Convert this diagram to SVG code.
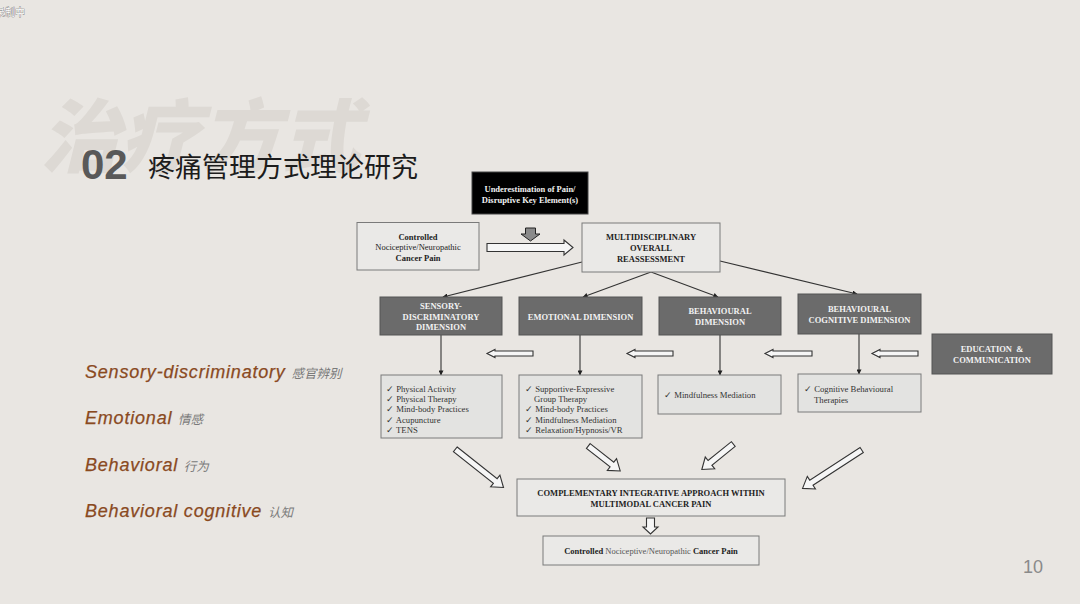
<svg xmlns="http://www.w3.org/2000/svg" width="1080" height="604" viewBox="0 0 1080 604">
<defs>
<style>
.bg{fill:#e9e6e2}
.wbox{fill:#eae9e7;stroke:#7a7a7a;stroke-width:1}
.lbox{fill:#e3e3e1;stroke:#7a7a7a;stroke-width:1}
.dbox{fill:#6b6b6b;stroke:#555;stroke-width:1}
.t{font-family:"Liberation Serif","Times New Roman",serif;font-size:8.5px;fill:#222}
.b{font-weight:bold}
.w{fill:#f2f2f2;font-weight:bold}
.c{text-anchor:middle}
.li{font-family:"Liberation Serif","Times New Roman",serif;font-size:8.7px;fill:#333}
.hollow{fill:#f6f6f6;stroke:#333;stroke-width:1.1}
.conn{stroke:#333;stroke-width:1.1;fill:none;marker-end:url(#ah)}
.lab{font-family:"Liberation Sans",Arial,sans-serif;font-style:italic;font-size:18px;letter-spacing:0.8px;fill:#8a4a1f;stroke:#8a4a1f;stroke-width:0.25}
.cn{font-family:"Noto Sans CJK SC","Noto Sans",sans-serif;font-style:italic;font-size:12.5px;letter-spacing:0;fill:#7a7a7a;stroke:none}
</style>
<marker id="ah" viewBox="0 0 6 6" refX="5.5" refY="3" markerWidth="5" markerHeight="5" markerUnits="userSpaceOnUse" orient="auto">
<path d="M0,0 L6,3 L0,6 z" fill="#222"/>
</marker>
</defs>
<rect class="bg" x="0" y="0" width="1080" height="604"/>
<text x="-5" y="16" font-family="Noto Sans CJK SC,sans-serif" font-size="10" fill="#fff" stroke="#777" stroke-width="0.7" paint-order="stroke">录制中</text>

<g id="title">
<text x="40" y="166" font-family="'Noto Sans CJK SC',sans-serif" font-size="80" font-weight="900" font-style="italic" fill="#ddd9d4">治疗方式</text>
<text x="81" y="179" font-family="'Liberation Sans',Arial,sans-serif" font-size="42" font-weight="bold" fill="#595959">02</text>
<text x="148" y="177" font-family="'Noto Sans CJK SC',sans-serif" font-size="27" fill="#1c1c1c">疼痛管理方式理论研究</text>
</g>

<g id="labels">
<text class="lab" x="85" y="378">Sensory-discriminatory <tspan class="cn">感官辨别</tspan></text>
<text class="lab" x="85" y="424">Emotional <tspan class="cn">情感</tspan></text>
<text class="lab" x="85" y="471">Behavioral <tspan class="cn">行为</tspan></text>
<text class="lab" x="85" y="517">Behavioral cognitive <tspan class="cn">认知</tspan></text>
</g>

<g id="connectors">
<polygon points="525.5,228 535.5,228 535.5,234 540,234 530.5,241 521,234 525.5,234" fill="#8a8a8a" stroke="#222" stroke-width="1"/>
<polygon class="hollow" points="487,243.5 564,243.5 564,240 573,247.5 564,255 564,251.5 487,251.5"/>
<line class="conn" x1="582" y1="262" x2="443" y2="297"/>
<line class="conn" x1="651" y1="272" x2="583" y2="297"/>
<line class="conn" x1="651" y1="272" x2="718" y2="297"/>
<line class="conn" x1="720" y1="261" x2="857" y2="294"/>
<line class="conn" x1="441" y1="335" x2="441" y2="375"/>
<line class="conn" x1="580" y1="335" x2="580" y2="375"/>
<line class="conn" x1="720" y1="335" x2="720" y2="375"/>
<line class="conn" x1="859" y1="334" x2="859" y2="374"/>
<polygon class="hollow" points="487,353.5 495,349.5 495,351 533,351 533,356 495,356 495,357.5"/>
<polygon class="hollow" points="627,353.5 635,349.5 635,351 673,351 673,356 635,356 635,357.5"/>
<polygon class="hollow" points="765,353.5 773,349.5 773,351 812,351 812,356 773,356 773,357.5"/>
<polygon class="hollow" points="872,353.5 880,349.5 880,351 918,351 918,356 880,356 880,357.5"/>
<polygon class="hollow" transform="translate(455.3,449.3) rotate(38.4)" points="0,-3 51,-3 51,-7.5 61.5,0 51,7.5 51,3 0,3"/>
<polygon class="hollow" transform="translate(588.3,446) rotate(38)" points="0,-3 30,-3 30,-7.5 40.5,0 30,7.5 30,3 0,3"/>
<polygon class="hollow" transform="translate(733.3,444) rotate(141)" points="0,-3 30,-3 30,-7.5 40.5,0 30,7.5 30,3 0,3"/>
<polygon class="hollow" transform="translate(861.7,450) rotate(147)" points="0,-3 60,-3 60,-7.5 70.5,0 60,7.5 60,3 0,3"/>
<polygon class="hollow" points="646.5,518 654.5,518 654.5,527 658,527 650.5,534 643,527 646.5,527"/>
</g>

<g id="n-under">
<rect x="472" y="172" width="116" height="42" fill="#000" stroke="#444"/>
<text class="t w c" x="530" y="192">Underestimation of Pain/</text>
<text class="t w c" x="530" y="202.5">Disruptive Key Element(s)</text>
</g>

<g id="n-controlled">
<rect class="wbox" x="357" y="222.5" width="122" height="47.5"/>
<text class="t b c" x="418" y="240">Controlled</text>
<text class="t c" x="418" y="250" fill="#555">Nociceptive/Neuropathic</text>
<text class="t b c" x="418" y="261">Cancer Pain</text>
</g>

<g id="n-multi">
<rect class="wbox" x="582" y="223" width="138" height="49"/>
<text class="t b c" x="651" y="240">MULTIDISCIPLINARY</text>
<text class="t b c" x="651" y="251">OVERALL</text>
<text class="t b c" x="651" y="261.5">REASSESSMENT</text>
</g>

<g id="n-sensory">
<rect class="dbox" x="380" y="297" width="122" height="38"/>
<text class="t w c" x="441" y="309">SENSORY-</text>
<text class="t w c" x="441" y="319.5">DISCRIMINATORY</text>
<text class="t w c" x="441" y="330">DIMENSION</text>
</g>

<g id="n-emotional">
<rect class="dbox" x="519" y="297" width="123" height="38"/>
<text class="t w c" x="580.5" y="320">EMOTIONAL DIMENSION</text>
</g>

<g id="n-behavioural">
<rect class="dbox" x="659" y="297" width="122" height="38"/>
<text class="t w c" x="720" y="314">BEHAVIOURAL</text>
<text class="t w c" x="720" y="324.5">DIMENSION</text>
</g>

<g id="n-behavcog">
<rect class="dbox" x="798" y="294" width="123" height="40"/>
<text class="t w c" x="859.5" y="312">BEHAVIOURAL</text>
<text class="t w c" x="859.5" y="323">COGNITIVE DIMENSION</text>
</g>

<g id="n-education">
<rect class="dbox" x="932" y="334" width="120" height="40"/>
<text class="t w c" x="992" y="352" xml:space="preserve">EDUCATION  &amp;</text>
<text class="t w c" x="992" y="363">COMMUNICATION</text>
</g>

<g id="n-list1">
<rect class="lbox" x="381" y="375" width="121" height="63"/>
<text class="li" x="386" y="392">✓ Physical Activity</text>
<text class="li" x="386" y="402">✓ Physical Therapy</text>
<text class="li" x="386" y="412">✓ Mind-body Practices</text>
<text class="li" x="386" y="422.5">✓ Acupuncture</text>
<text class="li" x="386" y="432.5">✓ TENS</text>
</g>

<g id="n-list2">
<rect class="lbox" x="519" y="375" width="123" height="63"/>
<text class="li" x="525" y="392">✓ Supportive-Expressive</text>
<text class="li" x="534" y="402">Group Therapy</text>
<text class="li" x="525" y="412">✓ Mind-body Practices</text>
<text class="li" x="525" y="422.5">✓ Mindfulness Mediation</text>
<text class="li" x="525" y="432.5">✓ Relaxation/Hypnosis/VR</text>
</g>

<g id="n-list3">
<rect class="lbox" x="658" y="375" width="123" height="39"/>
<text class="li" x="664" y="398">✓ Mindfulness Mediation</text>
</g>

<g id="n-list4">
<rect class="lbox" x="798" y="374" width="123" height="38"/>
<text class="li" x="804" y="392">✓ Cognitive Behavioural</text>
<text class="li" x="814" y="402.5">Therapies</text>
</g>

<g id="n-complementary">
<rect class="wbox" x="517" y="479" width="268" height="37"/>
<text class="t b c" x="651" y="496">COMPLEMENTARY INTEGRATIVE APPROACH WITHIN</text>
<text class="t b c" x="651" y="506.5">MULTIMODAL CANCER PAIN</text>
</g>

<g id="n-final">
<rect class="wbox" x="543" y="536" width="216" height="29"/>
<text class="t c" x="651" y="554"><tspan class="b">Controlled</tspan> <tspan fill="#555">Nociceptive/Neuropathic</tspan> <tspan class="b">Cancer Pain</tspan></text>
</g>

<text x="1023" y="573" font-family="'Liberation Sans',Arial,sans-serif" font-size="18" fill="#8a8a8a">10</text>
</svg>
